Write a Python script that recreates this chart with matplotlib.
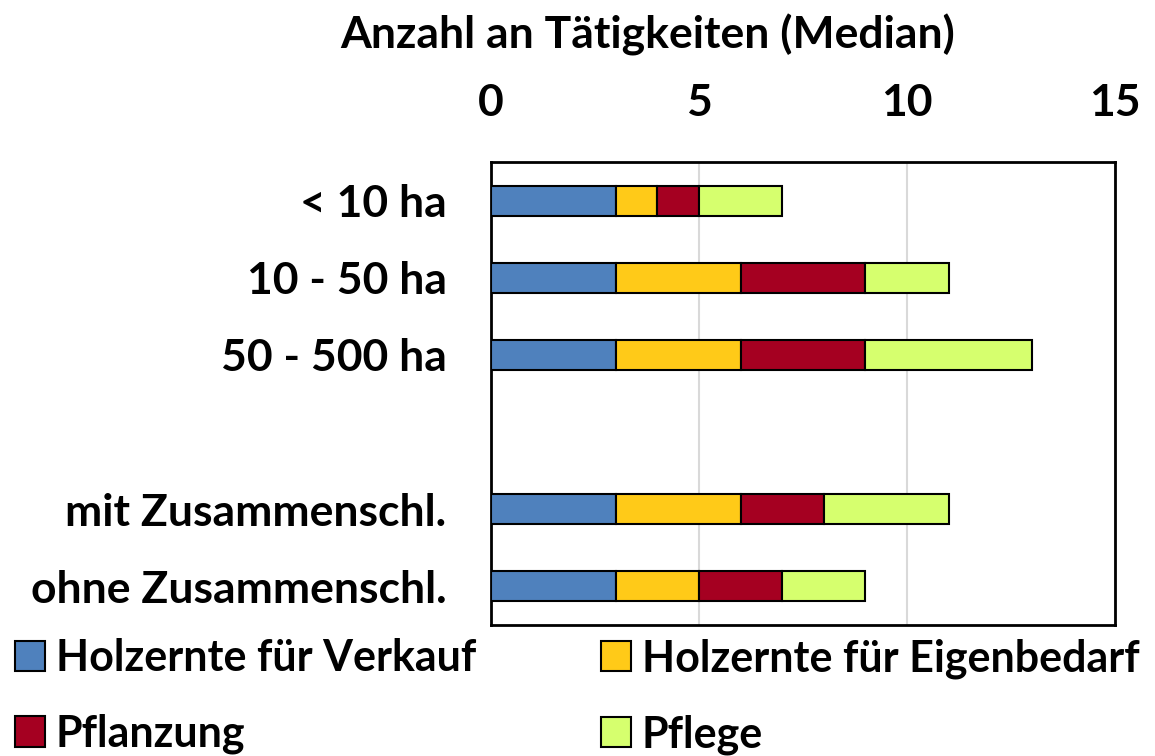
import numpy as np
import matplotlib.pyplot as plt

plt.rcParams['font.family'] = ['Lato', 'DejaVu Sans']
plt.rcParams['font.weight'] = 'bold'

categories = ["< 10 ha", "10 - 50 ha", "50 - 500 ha", "", "mit Zusammenschl.", "ohne Zusammenschl."]
verkauf = [3, 3, 3, 0, 3, 3]
eigenbedarf = [1, 3, 3, 0, 3, 2]
pflanzung = [1, 3, 3, 0, 2, 2]
pflege = [2, 2, 4, 0, 3, 2]

series = [
    ("Holzernte für Verkauf", verkauf, "#4F81BD"),
    ("Holzernte für Eigenbedarf", eigenbedarf, "#FFCA18"),
    ("Pflanzung", pflanzung, "#A50021"),
    ("Pflege", pflege, "#D6FF6E"),
]
fs = 32

fig = plt.figure(figsize=(11.55, 7.56), dpi=100)
ax = fig.add_axes([491/1155, 1-625/756, (1115-491)/1155, (625-162)/756])

y = np.arange(len(categories))
mask = np.array([c != "" for c in categories])
left = np.zeros(len(categories))
handles = []
for name, vals, col in series:
    vals = np.array(vals, dtype=float)
    b = ax.barh(y[mask], vals[mask], left=left[mask], height=0.39, color=col,
                edgecolor='black', linewidth=1.5, label=name, zorder=3)
    handles.append(b)
    left += vals

ax.set_xlim(0, 15)
ax.set_ylim(len(categories) - 0.5, -0.5)
ax.set_xticks([0, 5, 10, 15])
ax.xaxis.tick_top()
ax.tick_params(axis='x', length=0, pad=28, labelsize=fs)
ax.tick_params(axis='y', length=0, pad=32, labelsize=fs)
ax.set_yticks(y)
ax.set_yticklabels(categories)
ax.grid(axis='x', color='#D9D9D9', linewidth=1.5, zorder=0)
for s in ax.spines.values():
    s.set_linewidth(2)
    s.set_color('black')

fig.text(648/1155, 1-35/756, "Anzahl an Tätigkeiten (Median)", ha='center', va='center',
         fontsize=fs, fontweight='bold')

# row-wise order: Verkauf, Eigenbedarf / Pflanzung, Pflege
order = [0, 2, 1, 3]
fig.legend([handles[i] for i in order], [series[i][0] for i in order],
           loc='upper left', bbox_to_anchor=(-0.002, 1-621/756), ncol=2, frameon=False,
           fontsize=31, handlelength=0.7, handleheight=0.7, handletextpad=0.25,
           columnspacing=2.9, labelspacing=0.82, borderaxespad=0.0)

fig.savefig("out.png", dpi=100)
